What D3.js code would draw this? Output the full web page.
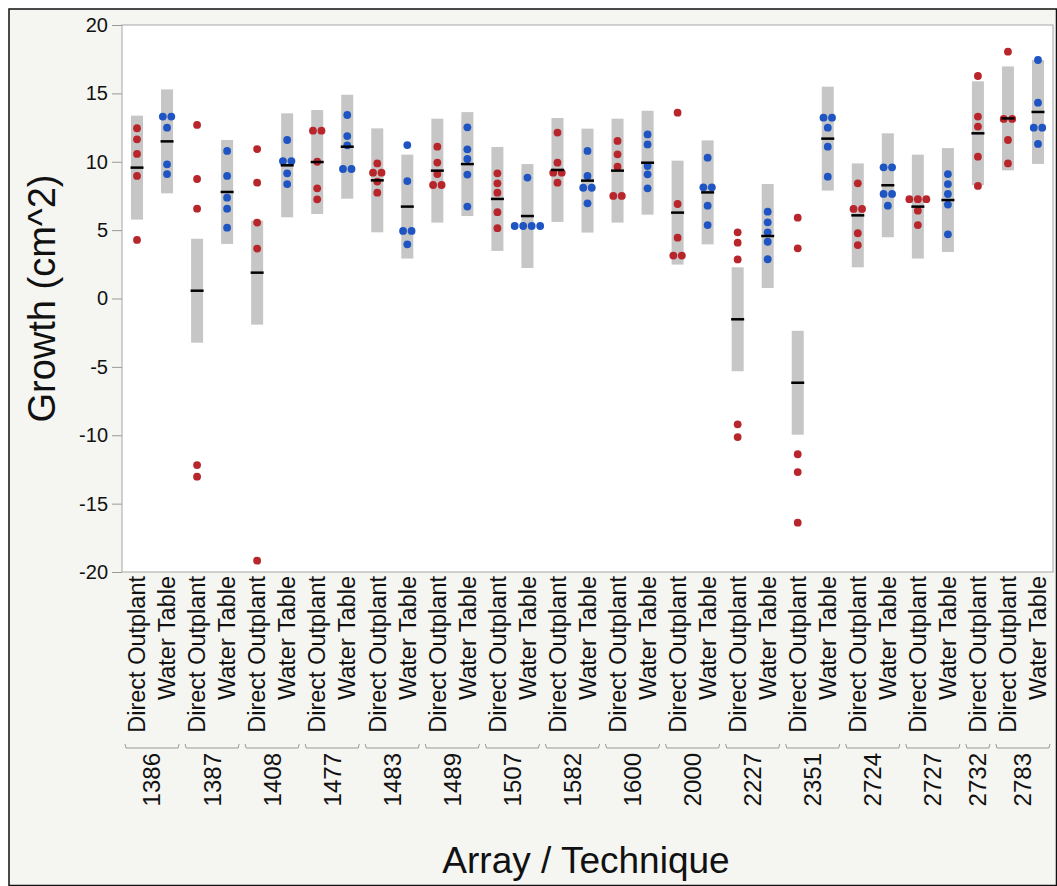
<!DOCTYPE html>
<html>
<head>
<meta charset="utf-8">
<script src="https://cdn.jsdelivr.net/npm/d3@7"></script>
<style>
    body { margin: 0; background: #fff; }
    text { font-family: "Liberation Sans", Arial, sans-serif; }
</style>
</head>
<body>
<div class="canvas"></div>

<script>
    // one entry per column (array, technique)
    const colArray = ["1386", "1386", "1387", "1387", "1408", "1408", "1477", "1477",
        "1483", "1483", "1489", "1489", "1507", "1507", "1582", "1582",
        "1600", "1600", "2000", "2000", "2227", "2227", "2351", "2351",
        "2724", "2724", "2727", "2727", "2732", "2783", "2783"];
    const colTech = ["Direct Outplant", "Water Table", "Direct Outplant", "Water Table",
        "Direct Outplant", "Water Table", "Direct Outplant", "Water Table",
        "Direct Outplant", "Water Table", "Direct Outplant", "Water Table",
        "Direct Outplant", "Water Table", "Direct Outplant", "Water Table",
        "Direct Outplant", "Water Table", "Direct Outplant", "Water Table",
        "Direct Outplant", "Water Table", "Direct Outplant", "Water Table",
        "Direct Outplant", "Water Table", "Direct Outplant", "Water Table",
        "Direct Outplant", "Direct Outplant", "Water Table"];

    // growth (cm^2) of each outplant, per column
    const growth = [
        [12.45, 11.64, 10.57, 8.96, 4.28],
        [13.3, 13.3, 12.49, 9.81, 9.1],
        [12.69, 8.74, 6.57, -12.18, -13.03],
        [10.79, 8.96, 7.37, 6.57, 5.18],
        [10.93, 8.47, 5.55, 3.65, -19.17],
        [11.59, 10.05, 10.05, 9.15, 8.37],
        [12.27, 12.27, 10.0, 8.06, 7.25],
        [13.42, 11.88, 11.2, 9.47, 9.47],
        [9.88, 9.2, 9.2, 8.55, 7.74],
        [11.22, 8.59, 4.94, 4.94, 3.96],
        [11.1, 9.94, 9.1, 8.3, 8.3],
        [12.52, 10.91, 10.2, 9.06, 6.72],
        [9.15, 8.42, 7.74, 6.31, 5.14],
        [8.84, 5.3, 5.3, 5.3, 5.3],
        [12.13, 9.93, 9.2, 9.2, 8.47],
        [10.79, 8.96, 8.1, 8.1, 6.96],
        [11.52, 10.54, 9.64, 7.5, 7.5],
        [12.0, 11.27, 9.69, 9.08, 8.06],
        [13.59, 6.91, 4.45, 3.14, 3.14],
        [10.3, 8.13, 8.13, 6.79, 5.37],
        [4.84, 4.08, 2.86, -9.2, -10.13],
        [6.35, 5.57, 4.84, 4.15, 2.87],
        [5.91, 3.67, -11.39, -12.69, -16.39],
        [13.22, 13.22, 12.49, 11.1, 8.91],
        [8.42, 6.55, 6.55, 4.77, 3.91],
        [9.59, 9.59, 7.65, 7.65, 6.79],
        [7.26, 7.26, 7.26, 6.42, 5.37],
        [9.1, 8.37, 7.64, 6.87, 4.69],
        [16.27, 13.3, 12.57, 10.37, 8.23],
        [18.05, 13.13, 13.13, 11.59, 9.88],
        [17.44, 14.32, 12.49, 12.49, 11.3]
    ];

    // group means as drawn, and the half width of the grey interval
    const means = [9.57, 11.49, 0.57, 7.79, 1.89, 9.74, 9.98, 11.1, 8.64, 6.72,
        9.35, 9.83, 7.28, 6.03, 9.4, 8.62, 9.35, 9.93, 6.28, 7.76,
        -1.52, 4.57, -6.16, 11.69, 6.08, 8.28, 6.72, 7.2, 12.08, 13.17, 13.64];
    const ciHalf = 3.8;

    const yTicks = [-20, -15, -10, -5, 0, 5, 10, 15, 20];

    const techColor = { "Direct Outplant": "#b8262c", "Water Table": "#1f55c2" };

    const W = 1057, H = 886;
    const PLOT_LEFT = 122, PLOT_RIGHT = 1053, PLOT_TOP = 25, PLOT_BOTTOM = 572;
    const BAR_W = 12;
    const DOT_R = 3.9;
    const DOT_GAP = 8.5;

    const svg = d3.select(".canvas").append("svg")
        .attr("width", W)
        .attr("height", H);

    // figure background + frame
    svg.append("rect")
        .attr("x", 9).attr("y", 9)
        .attr("width", W - 9.5).attr("height", H - 9.5)
        .attr("fill", "#f5f5f2")
        .attr("stroke", "#111")
        .attr("stroke-width", 1.5);

    svg.append("rect")
        .attr("x", PLOT_LEFT).attr("y", PLOT_TOP)
        .attr("width", PLOT_RIGHT - PLOT_LEFT).attr("height", PLOT_BOTTOM - PLOT_TOP)
        .attr("fill", "#fff")
        .attr("stroke", "#a6a6a6")
        .attr("stroke-width", 1);

    const keys = colArray.map((a, i) => i);
    const x = d3.scaleBand().domain(keys).range([PLOT_LEFT, PLOT_RIGHT]).padding(0);
    const y = d3.scaleLinear().domain([-20, 20]).range([PLOT_BOTTOM, PLOT_TOP]);
    const cx = i => x(i) + x.bandwidth() / 2;

    // y axis
    const yAxis = svg.append("g")
        .attr("transform", "translate(" + PLOT_LEFT + ",0)")
        .call(d3.axisLeft(y).tickValues(yTicks).tickSize(10).tickPadding(4)
            .tickFormat(d => String(d)));
    yAxis.select(".domain").remove();
    yAxis.selectAll(".tick line").attr("stroke", "#999");
    yAxis.selectAll(".tick text")
        .attr("fill", "#111")
        .style("font-size", "20px");

    svg.append("text")
        .attr("transform", "translate(55," + ((PLOT_TOP + PLOT_BOTTOM) / 2) + ") rotate(-90)")
        .attr("text-anchor", "middle")
        .attr("fill", "#111")
        .style("font-size", "38px")
        .text("Growth (cm^2)");

    // grey intervals
    svg.selectAll("rect.ci").data(keys).enter()
        .append("rect")
        .attr("class", "ci")
        .attr("x", i => cx(i) - BAR_W / 2)
        .attr("width", BAR_W)
        .attr("y", i => y(means[i] + ciHalf))
        .attr("height", i => y(means[i] - ciHalf) - y(means[i] + ciHalf))
        .attr("fill", "#c6c6c6");

    // points, tied values placed side by side
    const pts = [];
    keys.forEach(i => {
        const vals = growth[i].slice().sort((a, b) => b - a);
        let cluster = [];
        const flush = () => {
            cluster.forEach((v, k) => {
                pts.push({ col: i, v: v, dx: (k - (cluster.length - 1) / 2) * DOT_GAP });
            });
            cluster = [];
        };
        vals.forEach(v => {
            if (cluster.length && Math.abs(cluster[cluster.length - 1] - v) > 0.3) flush();
            cluster.push(v);
        });
        flush();
    });

    svg.selectAll("circle.pt").data(pts).enter()
        .append("circle")
        .attr("class", "pt")
        .attr("cx", d => cx(d.col) + d.dx)
        .attr("cy", d => y(d.v))
        .attr("r", DOT_R)
        .attr("fill", d => techColor[colTech[d.col]]);

    // mean ticks
    svg.selectAll("line.mean").data(keys).enter()
        .append("line")
        .attr("class", "mean")
        .attr("x1", i => cx(i) - 6.5)
        .attr("x2", i => cx(i) + 6.5)
        .attr("y1", i => y(means[i]))
        .attr("y2", i => y(means[i]))
        .attr("stroke", "#000")
        .attr("stroke-width", 2.5);

    // technique labels
    svg.selectAll("text.tech").data(keys).enter()
        .append("text")
        .attr("class", "tech")
        .attr("transform", i => "translate(" + cx(i) + "," + (PLOT_BOTTOM + 4) + ") rotate(-90)")
        .attr("text-anchor", "end")
        .attr("dy", "0.35em")
        .attr("fill", "#111")
        .style("font-size", "23.5px")
        .text(i => colTech[i]);

    // array groups
    const groups = d3.groups(keys, i => colArray[i]).map(([name, cols]) => ({
        name: name,
        x0: x(cols[0]),
        x1: x(cols[cols.length - 1]) + x.bandwidth()
    }));

    const BRACKET_Y = 748;
    svg.selectAll("path.bracket").data(groups).enter()
        .append("path")
        .attr("class", "bracket")
        .attr("d", g => "M" + (g.x0 + 3) + "," + (BRACKET_Y - 4) + "L" + (g.x0 + 4) + "," + BRACKET_Y +
            "L" + (g.x1 - 4) + "," + BRACKET_Y + "L" + (g.x1 - 3) + "," + (BRACKET_Y - 4))
        .attr("fill", "none")
        .attr("stroke", "#999")
        .attr("stroke-width", 1);

    svg.selectAll("text.arr").data(groups).enter()
        .append("text")
        .attr("class", "arr")
        .attr("transform", g => "translate(" + ((g.x0 + g.x1) / 2) + "," + (BRACKET_Y + 5) + ") rotate(-90)")
        .attr("text-anchor", "end")
        .attr("dy", "0.35em")
        .attr("fill", "#111")
        .style("font-size", "24px")
        .text(g => g.name);

    svg.append("text")
        .attr("x", 586)
        .attr("y", 873)
        .attr("text-anchor", "middle")
        .attr("fill", "#111")
        .style("font-size", "37px")
        .text("Array / Technique");
</script>
</body>
</html>
